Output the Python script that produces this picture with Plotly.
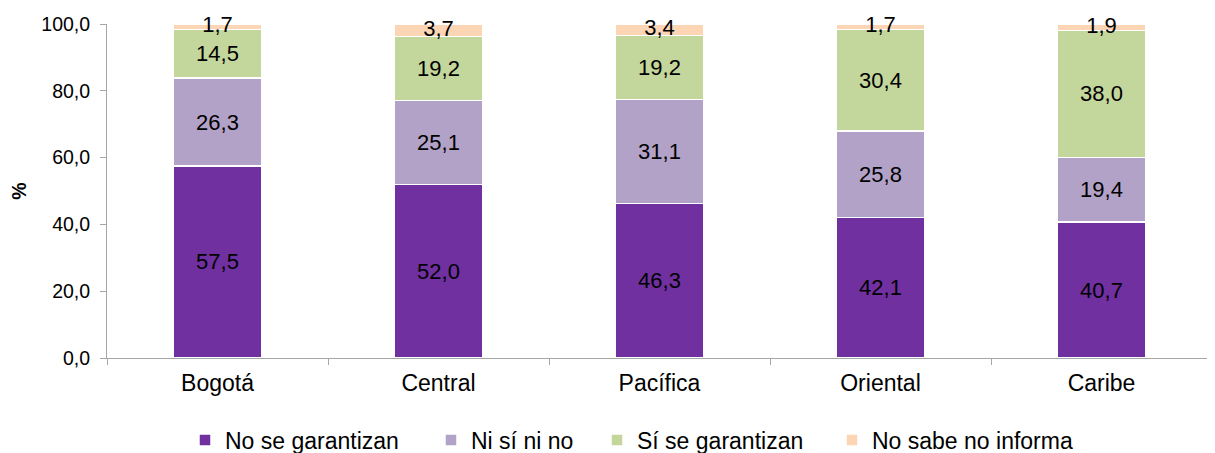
import plotly.graph_objects as go

categories = ["Bogotá", "Central", "Pacífica", "Oriental", "Caribe"]
no_se_garantizan = [57.5, 52.0, 46.3, 42.1, 40.7]
ni_si_ni_no = [26.3, 25.1, 31.1, 25.8, 19.4]
si_se_garantizan = [14.5, 19.2, 19.2, 30.4, 38.0]
no_sabe = [1.7, 3.7, 3.4, 1.7, 1.9]
y_ticks = [0, 20, 40, 60, 80, 100]

series = [
    ("No se garantizan", no_se_garantizan, "#7030A0"),
    ("Ni sí ni no", ni_si_ni_no, "#B3A2C7"),
    ("Sí se garantizan", si_se_garantizan, "#C3D69B"),
    ("No sabe no informa", no_sabe, "#FCD5B5"),
]
FONT = "Liberation Sans, Arial"
W, H = 1207, 445
# desired legend text start (page px) for each entry
legend_text_x = [225, 471, 637, 872]


def fmt(v):
    return f"{v:.1f}".replace(".", ",")


fig = go.Figure()
base = [0.0] * len(categories)
legend_ids = ["legend", "legend2", "legend3", "legend4"]
for i, (name, vals, color) in enumerate(series):
    last = i == len(series) - 1
    fig.add_trace(go.Bar(
        x=categories, y=vals, name=name, legend=legend_ids[i],
        marker=dict(color=color, line=dict(color="white", width=1.5)),
        text=None if last else [fmt(v) for v in vals],
        textposition="none" if last else "inside",
        insidetextanchor="middle", textangle=0,
        textfont=dict(family=FONT, size=22, color="black"),
    ))
    if last:
        mids = [b + v / 2 for b, v in zip(base, vals)]
        fig.add_trace(go.Scatter(
            x=categories, y=mids, mode="text",
            text=[fmt(v) for v in vals], textposition="middle center",
            textfont=dict(family=FONT, size=22, color="black"),
            showlegend=False, cliponaxis=False, hoverinfo="skip",
        ))
    base = [b + v for b, v in zip(base, vals)]

layout_legends = {}
for lid, tx in zip(legend_ids, legend_text_x):
    layout_legends[lid] = dict(
        orientation="h", xref="container", yref="container",
        x=(tx - 8 - 40) / W, xanchor="left", y=13 / H, yanchor="middle",
        font=dict(family=FONT, size=23, color="black"), bgcolor="rgba(0,0,0,0)",
    )

fig.update_layout(
    barmode="stack",
    bargap=0.60,
    width=W, height=H,
    margin=dict(l=99, r=3, t=16, b=95, autoexpand=False),
    paper_bgcolor="white", plot_bgcolor="white",
    separators=",.",
    font=dict(family=FONT, size=19.5, color="black"),
    showlegend=True,
    **layout_legends,
)
fig.update_xaxes(
    showline=True, linecolor="#A6A6A6", linewidth=1,
    ticks="outside", tickson="boundaries", ticklen=6, tickcolor="#A6A6A6",
    tickfont=dict(size=23), showgrid=False, automargin=False,
    ticklabelstandoff=4,
)
fig.update_yaxes(
    range=[0, 100], tickvals=y_ticks, tickformat=".1f",
    showline=True, linecolor="#A6A6A6", linewidth=1,
    ticks="outside", ticklen=6, tickcolor="#A6A6A6",
    showgrid=False, zeroline=False, automargin=False,
    ticklabelstandoff=6,
    title=dict(text="<b>%</b>", font=dict(size=19.5), standoff=12),
)
fig.write_html("out.html")
